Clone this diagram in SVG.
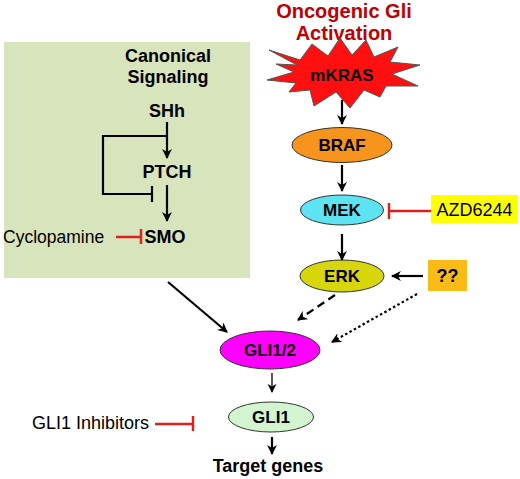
<svg xmlns="http://www.w3.org/2000/svg" width="520" height="479" viewBox="0 0 520 479">
<defs>
<marker id="ah" viewBox="0 0 10 10" refX="9" refY="5" markerWidth="4.5" markerHeight="4.5" orient="auto" markerUnits="strokeWidth">
<path d="M0,0 L10,5 L0,10 L3,5 Z" fill="#000"/>
</marker>
<marker id="ahs" viewBox="0 0 10 10" refX="9" refY="5" markerWidth="7" markerHeight="7" orient="auto" markerUnits="strokeWidth">
<path d="M0,0 L10,5 L0,10 L3,5 Z" fill="#000"/>
</marker>
<style>
.b{font-family:"Liberation Sans",Arial,sans-serif;font-weight:bold;font-size:17px;fill:#000;text-anchor:middle}
.h{font-size:18px}
.r{font-family:"Liberation Sans",Arial,sans-serif;font-size:18px;fill:#000}
.title{font-family:"Liberation Sans",Arial,sans-serif;font-weight:bold;font-size:20px;fill:#c00000;text-anchor:middle}
.blk{stroke:#000;stroke-width:2.2;fill:none}
.inh{stroke:#e02020;stroke-width:2.5;fill:none}
.node{stroke:#333;stroke-width:1}
</style>
</defs>
<rect width="520" height="479" fill="#fff"/>

<g id="canonical-box">
<rect x="4" y="42" width="246" height="236" fill="#d8e4bc"/>
<text class="b h" x="168" y="62">Canonical</text>
<text class="b h" x="168" y="83">Signaling</text>
</g>
<g id="SHh"><text class="b h" x="167" y="117">SHh</text></g>
<g id="PTCH"><text class="b h" x="167" y="178">PTCH</text></g>
<g id="SMO"><text class="b h" x="165" y="243">SMO</text></g>
<g id="Cyclopamine"><text class="r" x="3" y="243" style="font-size:17.5px">Cyclopamine</text></g>

<g id="title"><text class="title" x="344" y="18">Oncogenic Gli</text><text class="title" x="344" y="40">Activation</text></g>

<g id="mKRAS">
<polygon points="269,50 300,60 312,44 328,56 340,38 352,55 366,40 374,57 398,47 390,62 420,65 392,74 418,86 386,86 380,97 364,90 350,108 336,92 314,106 310,90 289,92 296,83 267,80 294,72 276,64 297,65" fill="#ff1010" stroke="#555" stroke-width="1"/>
<text class="b" x="342" y="81">mKRAS</text>
</g>
<g id="BRAF"><ellipse class="node" cx="342" cy="145" rx="50" ry="17.5" fill="#f7941e"/><text class="b" x="342" y="151">BRAF</text></g>
<g id="MEK"><ellipse class="node" cx="342" cy="210" rx="41.5" ry="15" fill="#5ee3f3"/><text class="b" x="342" y="216">MEK</text></g>
<g id="AZD6244"><rect x="431" y="195" width="87" height="28" fill="#ffff00"/><text class="r" x="474.5" y="216" text-anchor="middle">AZD6244</text></g>
<g id="ERK"><ellipse class="node" cx="342" cy="276" rx="42" ry="16" fill="#d6d60a"/><text class="b" x="342" y="282">ERK</text></g>
<g id="unknown"><rect x="428" y="260" width="39" height="31" fill="#fbbb16"/><text class="b h" x="447.5" y="282">??</text></g>
<g id="GLI12"><ellipse class="node" cx="270" cy="350" rx="50" ry="19" fill="#ff00ff"/><text class="b" x="270" y="356">GLI1/2</text></g>
<g id="GLI1"><ellipse class="node" cx="271" cy="417" rx="42.5" ry="15" fill="#d2f5d0"/><text class="b" x="271" y="423">GLI1</text></g>
<g id="GLI1-Inhibitors"><text class="r" x="32" y="429">GLI1 Inhibitors</text></g>
<g id="Target-genes"><text class="b h" x="268" y="472">Target genes</text></g>

<g id="connectors">
<line class="blk" x1="167" y1="122" x2="167" y2="158" marker-end="url(#ah)"/>
<polyline class="blk" points="167,136 103,136 103,194 152,194"/>
<line class="blk" x1="152" y1="186" x2="152" y2="202"/>
<line class="blk" x1="167" y1="185" x2="167" y2="221" marker-end="url(#ah)"/>
<line class="inh" x1="116" y1="237" x2="141" y2="237"/>
<line class="inh" x1="141" y1="229" x2="141" y2="244"/>

<line class="blk" x1="342" y1="100" x2="342" y2="124" marker-end="url(#ah)"/>
<line class="blk" x1="342" y1="165" x2="342" y2="191" marker-end="url(#ah)"/>
<line class="inh" x1="431" y1="211" x2="389" y2="211"/>
<line class="inh" x1="389" y1="203" x2="389" y2="219"/>
<line class="blk" x1="342" y1="234" x2="342" y2="260" marker-end="url(#ah)"/>
<line class="blk" x1="423" y1="276" x2="392" y2="276" marker-end="url(#ah)"/>
<line class="blk" x1="335" y1="295" x2="298" y2="320" stroke-width="2.6" stroke-dasharray="8,5" marker-end="url(#ah)"/>
<line class="blk" x1="417" y1="294" x2="332" y2="342" stroke-width="2.2" stroke-dasharray="2.5,2.5" marker-end="url(#ah)"/>
<line class="blk" x1="168" y1="282" x2="227" y2="332" marker-end="url(#ah)"/>
<line x1="272" y1="373" x2="272" y2="392" stroke="#000" stroke-width="1.3" marker-end="url(#ahs)"/>
<line class="inh" x1="155" y1="424" x2="193" y2="424"/>
<line class="inh" x1="193" y1="416" x2="193" y2="431"/>
<line class="blk" x1="272" y1="437" x2="272" y2="454" marker-end="url(#ah)"/>
</g>
</svg>
